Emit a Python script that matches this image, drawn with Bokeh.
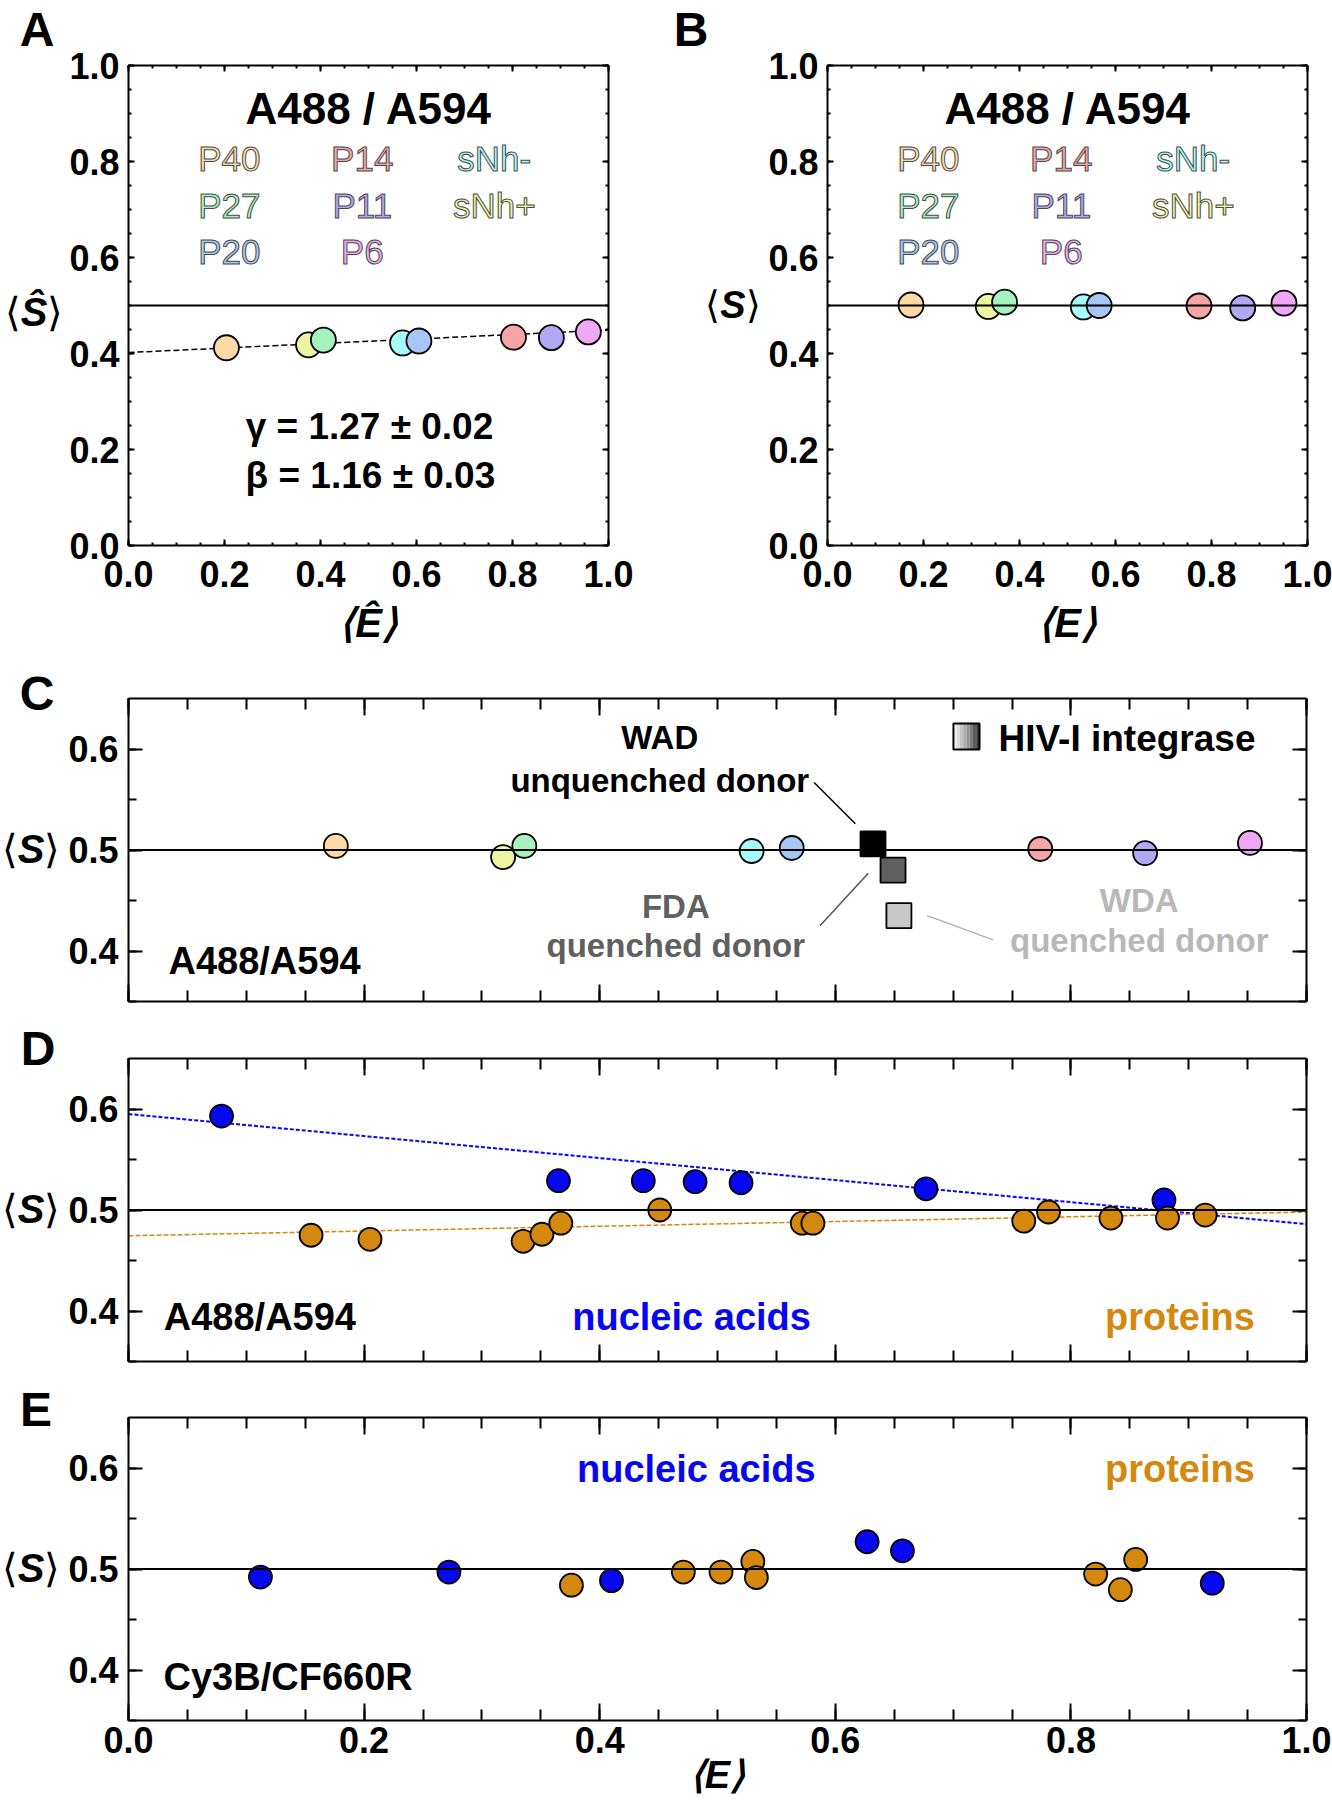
from bokeh.plotting import figure
from bokeh.models import (Range1d, LinearAxis, SingleIntervalTicker, PrintfTickFormatter,
                          Span, Label, Text, Div)
from bokeh.layouts import column, row
from bokeh.embed import file_html
from bokeh.resources import INLINE
from bokeh.core.properties import value

FONT = "Liberation Sans"

# ------------------------------------------------------------------ data
samples = ["P40", "sNh+", "P27", "sNh-", "P20", "P14", "P11", "P6"]
sample_colors = ["#FDD9A5", "#EEF5A0", "#A5F2BE", "#A5FAFA", "#A8C6F5", "#F5A5A5", "#B2A8F2", "#EEA8F5"]
legend_columns = [["P40", "P27", "P20"], ["P14", "P11", "P6"], ["sNh-", "sNh+"]]

# panel A (gamma/beta-corrected, hat quantities)
a_E = [0.204, 0.375, 0.406, 0.571, 0.605, 0.802, 0.881, 0.958]
a_S = [0.412, 0.418, 0.428, 0.422, 0.426, 0.434, 0.433, 0.445]
a_fit_E = [0.0, 1.0]
a_fit_S = [0.402, 0.449]
a_title = "A488 / A594"
a_gamma = "γ = 1.27 ± 0.02"
a_beta = "β = 1.16 ± 0.03"

# panel B
b_E = [0.174, 0.335, 0.369, 0.533, 0.566, 0.774, 0.865, 0.951]
b_S = [0.501, 0.498, 0.507, 0.497, 0.500, 0.499, 0.495, 0.505]

# panel C
c_E = [0.176, 0.318, 0.336, 0.529, 0.563, 0.774, 0.863, 0.952]
c_S = [0.504, 0.493, 0.504, 0.499, 0.502, 0.501, 0.497, 0.507]
hiv_labels = ["WAD", "FDA", "WDA"]
hiv_E = [0.632, 0.649, 0.654]
hiv_S = [0.506, 0.480, 0.435]
hiv_colors = ["#000000", "#606060", "#C8C8C8"]

# panel D (A488/A594)
d_na_E = [0.079, 0.365, 0.437, 0.481, 0.520, 0.677, 0.879]
d_na_S = [0.593, 0.529, 0.529, 0.528, 0.527, 0.521, 0.510]
d_pr_E = [0.155, 0.205, 0.335, 0.351, 0.367, 0.451, 0.572, 0.581, 0.760, 0.781, 0.834, 0.882, 0.914]
d_pr_S = [0.475, 0.471, 0.469, 0.476, 0.487, 0.500, 0.487, 0.487, 0.489, 0.498, 0.492, 0.492, 0.495]
d_na_fit_E = [0.0, 1.0]
d_na_fit_S = [0.595, 0.486]
d_pr_fit_E = [0.0, 1.0]
d_pr_fit_S = [0.4745, 0.498]

# panel E (Cy3B/CF660R)
e_na_E = [0.112, 0.272, 0.410, 0.627, 0.657, 0.920]
e_na_S = [0.492, 0.497, 0.4885, 0.527, 0.518, 0.486]
e_pr_E = [0.376, 0.471, 0.503, 0.530, 0.533, 0.821, 0.842, 0.855]
e_pr_S = [0.484, 0.497, 0.497, 0.5075, 0.4915, 0.495, 0.4795, 0.5095]

ref_S = 0.5

NA_COLOR = "#0808F0"
PR_COLOR = "#D4880E"

HAS_OUTLINE = "text_outline_color" in Text.properties()


# ------------------------------------------------------------------ helpers
def base_fig(fw, fh, borders, yrange):
    l, r, t, b = borders
    p = figure(frame_width=fw, frame_height=fh, x_range=Range1d(0, 1), y_range=Range1d(*yrange),
               min_border_left=l, min_border_right=r, min_border_top=t, min_border_bottom=b,
               output_backend="svg", toolbar_location=None)
    p.xgrid.visible = False
    p.ygrid.visible = False
    p.outline_line_color = None
    p.border_fill_color = "white"
    p.add_layout(LinearAxis(), "above")
    p.add_layout(LinearAxis(), "right")
    return p


def style_axis(ax, interval, nminor, maj_in, min_in, labeled, standoff):
    ax.ticker = SingleIntervalTicker(interval=interval, num_minor_ticks=nminor)
    ax.major_tick_in = maj_in
    ax.major_tick_out = 0
    ax.minor_tick_in = min_in
    ax.minor_tick_out = 0
    ax.axis_line_width = 2
    ax.major_tick_line_width = 2
    ax.minor_tick_line_width = 2
    ax.axis_line_color = "black"
    ax.major_tick_line_color = "black"
    ax.minor_tick_line_color = "black"
    if labeled:
        ax.formatter = PrintfTickFormatter(format="%.1f")
        ax.major_label_text_font = FONT
        ax.major_label_text_font_size = "36px"
        ax.major_label_text_font_style = "bold"
        ax.major_label_text_color = "black"
        ax.major_label_standoff = standoff
    else:
        ax.formatter = PrintfTickFormatter(format="")
        ax.major_label_text_font_size = "1px"
        ax.major_label_standoff = 0


def x_title(ax, text, size, standoff):
    ax.axis_label = text
    ax.axis_label_text_font = FONT
    ax.axis_label_text_font_size = f"{size}px"
    ax.axis_label_text_font_style = "bold italic"
    ax.axis_label_text_color = "black"
    ax.axis_label_standoff = standoff


def lab(p, x, y, text, size, color="black", style="bold", align="center"):
    p.add_layout(Label(x=x, y=y, text=text, text_font=FONT, text_font_size=f"{size}px",
                       text_font_style=style, text_color=color, text_align=align,
                       text_baseline="middle"))


def ref_line(p):
    p.add_layout(Span(location=ref_S, dimension="width", line_color="black", line_width=2))


def gutter(w, h, letter, letter_xy, sym, sym_xy, sym_size=40):
    """Strip left of a panel holding the panel letter and the y-axis title <S>."""
    base = ("position:absolute;transform:translate(-50%,-50%);line-height:0.8;white-space:nowrap;"
            "color:black;font-family:'Liberation Sans',sans-serif;")
    letter_html = (f'<span style="{base}left:{letter_xy[0]}px;top:{letter_xy[1]}px;'
                   f'font-size:48px;font-weight:bold;">{letter}</span>')
    br = "font-weight:normal;font-style:normal;"
    sym_html = (f'<span style="{base}left:{sym_xy[0]}px;top:{sym_xy[1]}px;font-size:{sym_size}px;'
                f'font-weight:bold;font-style:italic;">'
                f'<span style="{br}">⟨</span>{sym}<span style="{br}">⟩</span></span>')
    html = (f'<div style="position:relative;width:{w}px;height:{h}px;overflow:hidden;">'
            f'{letter_html}{sym_html}</div>')
    return Div(text=html, width=w, height=h, margin=0)


# ------------------------------------------------------------------ panels A / B
def square_panel(E, S, borders, xlab, fit=None):
    p = base_fig(480, 480, borders, (0, 1))
    style_axis(p.below[0], 0.2, 4, 6, 3, True, 15)
    style_axis(p.above[0], 0.2, 4, 6, 3, False, 0)
    style_axis(p.left[0], 0.2, 4, 6, 3, True, 9)
    style_axis(p.right[0], 0.2, 4, 6, 3, False, 0)
    x_title(p.below[0], xlab, 40, 11)
    ref_line(p)
    if fit is not None:
        p.line(fit[0], fit[1], line_color="black", line_width=1.5, line_dash="6 3")
    p.scatter(E, S, size=25, fill_color=sample_colors, line_color="black", line_width=1.8)
    lab(p, 0.501, 0.911, a_title, 44)
    col_x = [0.21, 0.487, 0.762]
    row_y = [0.8056, 0.709, 0.613]
    cmap = dict(zip(samples, sample_colors))
    xs, ys, ts, cs = [], [], [], []
    for ci, names in enumerate(legend_columns):
        for ri, name in enumerate(names):
            xs.append(col_x[ci]); ys.append(row_y[ri]); ts.append(name); cs.append(cmap[name])
    kw = dict(text_font=value(FONT), text_font_size="35px", text_align="center",
              text_baseline="middle", text_color=cs)
    if HAS_OUTLINE:
        kw["text_outline_color"] = "#4A4A4A"
    p.text(x=xs, y=ys, text=ts, **kw)
    return p


ROW1_H = 660
gA = gutter(66, ROW1_H, "A", (37, 30), "Ŝ", (34, 312))
pA = square_panel(a_E, a_S, (62, 40, 65, 115), "⟨Ê⟩", fit=(a_fit_E, a_fit_S))
lab(pA, 0.502, 0.247, a_gamma, 37)
lab(pA, 0.504, 0.146, a_beta, 37)

gB = gutter(116, ROW1_H, "B", (43, 30), "S", (85, 305), sym_size=38)
pB = square_panel(b_E, b_S, (63, 25, 65, 115), "⟨E⟩")


# ------------------------------------------------------------------ panels C / D / E
def wide_panel(borders, x_labels):
    p = base_fig(1178, 303, borders, (0.35, 0.65))
    style_axis(p.below[0], 0.2, 4, 17, 11, x_labels, 6)
    style_axis(p.above[0], 0.2, 4, 17, 11, False, 0)
    style_axis(p.left[0], 0.1, 2, 14, 8, True, 10)
    style_axis(p.right[0], 0.1, 2, 14, 8, False, 0)
    ref_line(p)
    return p


# C
gC = gutter(64, 361, "C", (37, 34), "S", (31, 189))
pC = wide_panel((64, 26, 38, 20), False)
pC.scatter(c_E, c_S, size=24, fill_color=sample_colors, line_color="black", line_width=1.8)
# leader lines from the annotations to the HIV-I integrase squares
pC.line([0.582, 0.617], [0.5668, 0.526], line_color="black", line_width=1.5)
pC.line([0.587, 0.628], [0.425, 0.477], line_color="#555555", line_width=1.5)
pC.line([0.678, 0.734], [0.435, 0.411], line_color="#B0B0B0", line_width=1.5)
pC.scatter(hiv_E, hiv_S, marker="square", size=25, fill_color=hiv_colors, line_color="black",
           line_width=1.8)
lab(pC, 0.451, 0.611, "WAD", 33)
lab(pC, 0.451, 0.569, "unquenched donor", 33)
lab(pC, 0.4646, 0.4445, "FDA", 33, color="#606060")
lab(pC, 0.4646, 0.405, "quenched donor", 33, color="#606060")
lab(pC, 0.858, 0.450, "WDA", 33, color="#B8B8B8")
lab(pC, 0.858, 0.4106, "quenched donor", 33, color="#B8B8B8")
lab(pC, 0.1155, 0.390, "A488/A594", 38)
# HIV-I integrase legend swatch (gradient white -> black)
sw_l, sw_r, sw_b, sw_t = 0.7003, 0.7224, 0.5995, 0.6252
grad = ["#F4F4F4", "#DCDCDC", "#C4C4C4", "#ACACAC", "#949494", "#7C7C7C", "#5C5C5C", "#3C3C3C"]
n = len(grad)
w = (sw_r - sw_l) / n
pC.quad(left=[sw_l + i * w for i in range(n)], right=[sw_l + (i + 1) * w for i in range(n)],
        bottom=[sw_b] * n, top=[sw_t] * n, fill_color=grad, line_color=None)
pC.quad(left=[sw_l], right=[sw_r], bottom=[sw_b], top=[sw_t], fill_color=None,
        line_color="black", line_width=2)
lab(pC, 0.7385, 0.6104, "HIV-I integrase", 37, align="left")

# D
gD = gutter(64, 360, "D", (38, 28), "S", (31, 188))
pD = wide_panel((64, 26, 37, 20), False)
pD.line(d_na_fit_E, d_na_fit_S, line_color=NA_COLOR, line_width=2, line_dash="4 2")
pD.line(d_pr_fit_E, d_pr_fit_S, line_color=PR_COLOR, line_width=1.5, line_dash="5 2")
pD.scatter(d_na_E, d_na_S, size=23, fill_color=NA_COLOR, line_color="black", line_width=1.8)
pD.scatter(d_pr_E, d_pr_S, size=23, fill_color=PR_COLOR, line_color="black", line_width=1.8)
lab(pD, 0.1115, 0.394, "A488/A594", 38)
lab(pD, 0.478, 0.394, "nucleic acids", 38, color=NA_COLOR)
lab(pD, 0.8925, 0.394, "proteins", 38, color=PR_COLOR)

# E
gE = gutter(64, 419, "E", (36, 29), "S", (31, 187))
pE = wide_panel((64, 26, 36, 80), True)
x_title(pE.below[0], "⟨E⟩", 38, -2)
pE.scatter(e_na_E, e_na_S, size=23, fill_color=NA_COLOR, line_color="black", line_width=1.8)
pE.scatter(e_pr_E, e_pr_S, size=23, fill_color=PR_COLOR, line_color="black", line_width=1.8)
lab(pE, 0.482, 0.599, "nucleic acids", 38, color=NA_COLOR)
lab(pE, 0.8925, 0.599, "proteins", 38, color=PR_COLOR)
lab(pE, 0.1355, 0.393, "Cy3B/CF660R", 38)

layout = column(row(gA, pA, gB, pB), row(gC, pC), row(gD, pD), row(gE, pE))
open("out.html", "w").write(file_html(layout, INLINE))
